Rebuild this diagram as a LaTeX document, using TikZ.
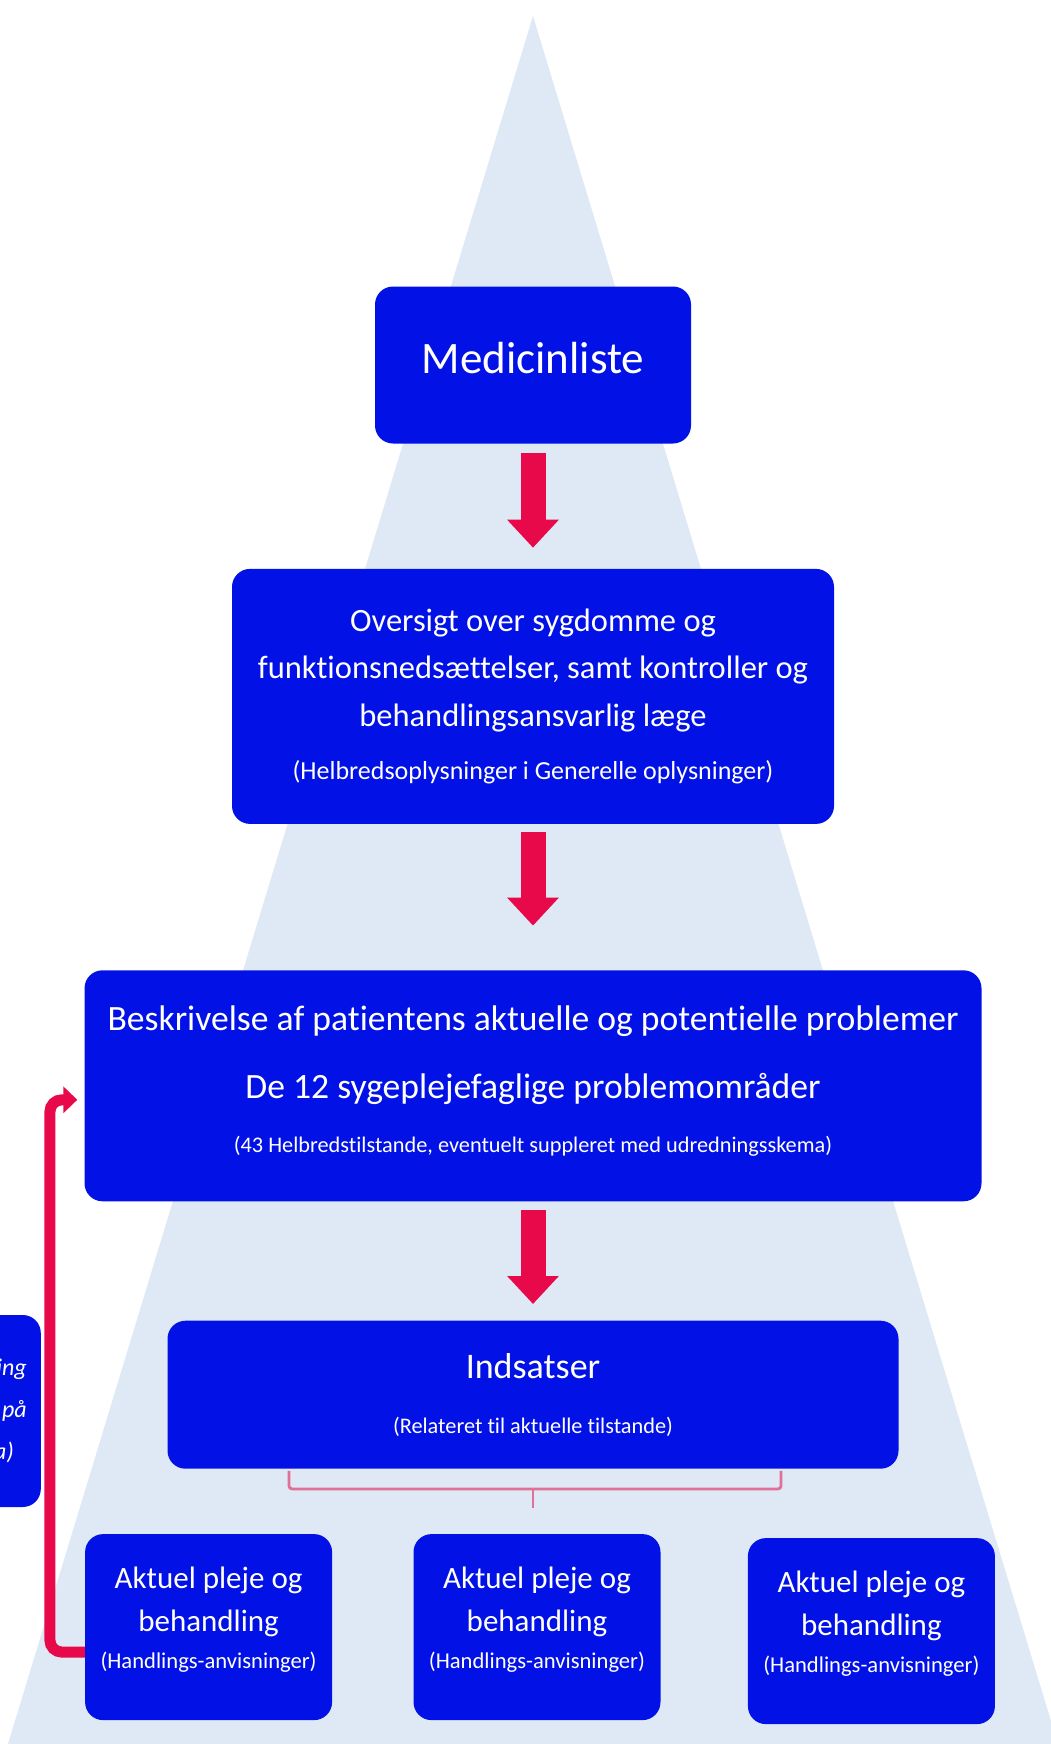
\documentclass[tikz,border=0pt]{standalone}
\usepackage{fontspec}
\setmainfont{Carlito}[Ligatures=NoCommon]
\usetikzlibrary{arrows.meta,positioning,calc}
\definecolor{pyramidblue}{HTML}{DEE9F5}
\definecolor{boxblue}{HTML}{0212E6}
\definecolor{arrowred}{HTML}{E8094A}
\definecolor{bracepink}{HTML}{E07095}
\tikzstyle{bluebox} = [rectangle, fill=boxblue, rounded corners=18pt, text=white,
    align=center, inner sep=0pt]
\tikzstyle{aktbox} = [bluebox, minimum width=247pt, minimum height=186pt, text depth=19pt,
    font={\fontsize{31}{43}\selectfont}]
\tikzstyle{downarrow} = [-{Triangle[width=50pt,length=28pt]}, line width=25pt, arrowred]
\tikzstyle{backarrow} = [-{Triangle[width=26pt,length=14pt]}, line width=11pt, arrowred, rounded corners=12pt]
\tikzstyle{bracket} = [line width=2.8pt, bracepink, rounded corners=3pt]

\begin{document}
\begin{tikzpicture}[x=1pt, y=-1pt]

\useasboundingbox (0,0) rectangle (1051,1744);
\fill[pyramidblue] (533,16) -- (8,1744) -- (1058,1744) -- cycle;

\node[bluebox, minimum width=316pt, minimum height=157pt, text depth=14pt, font={\fontsize{45}{54}\selectfont}] (med) at (533,365) {Medicinliste};
\node[bluebox, below=125pt of med, minimum width=602pt, minimum height=255pt, font={\fontsize{32.5}{47.5}\selectfont}] (oversigt) {Oversigt over sygdomme og\\funktionsnedsættelser, samt kontroller og\\behandlingsansvarlig læge\\[5.5pt]{\fontsize{26}{26}\selectfont (Helbredsoplysninger i Generelle oplysninger)}};
\node[bluebox, below=146pt of oversigt, minimum width=897pt, minimum height=231pt, text depth=12.5pt, font={\fontsize{35.6}{68}\selectfont}] (beskriv) {Beskrivelse af patientens aktuelle og potentielle problemer\\De 12 sygeplejefaglige problemområder\\[-14pt]{\fontsize{22.3}{22}\selectfont (43 Helbredstilstande, eventuelt suppleret med udredningsskema)}};
\node[bluebox, below=119pt of beskriv, minimum width=731pt, minimum height=148pt, font={\fontsize{36}{55}\selectfont}] (indsats) {Indsatser\\{\fontsize{22.3}{22}\selectfont (Relateret til aktuelle tilstande)}};

\node[aktbox, below=65pt of indsats, xshift=4pt] (akt2) {Aktuel pleje og\\behandling\\[-6pt]{\fontsize{22.6}{22}\selectfont (Handlings-anvisninger)}};
\node[aktbox, left=81pt of akt2] (akt1) {Aktuel pleje og\\behandling\\[-6pt]{\fontsize{22.6}{22}\selectfont (Handlings-anvisninger)}};
\node[aktbox, right=87pt of akt2, yshift=-4pt] (akt3) {Aktuel pleje og\\behandling\\[-6pt]{\fontsize{22.6}{22}\selectfont (Handlings-anvisninger)}};

\node[bluebox, anchor=east, minimum width=200pt, minimum height=192pt, text width=172pt, align=right, font={\itshape\fontsize{24}{42}\selectfont}] (evaluering) at (41,1411) {ing\\på\\a)\hspace*{13pt}};

\draw[downarrow, shorten <=9pt, shorten >=21pt] (med.south) -- (med.south |- oversigt.north);
\draw[downarrow, shorten <=7.5pt, shorten >=44.5pt] (oversigt.south) -- (oversigt.south |- beskriv.north);
\draw[downarrow, shorten <=8.5pt, shorten >=16.5pt] (beskriv.south) -- (beskriv.south |- indsats.north);

\draw[bracket] ($(indsats.south)+(-244,2)$) -- ++(0,18) -- ++(492,0) -- ++(0,-18);
\draw[bracket] ($(indsats.south)+(0,20)$) -- ++(0,19);

\draw[backarrow] ($(akt1.west)+(0,25)$) -- ++(-35,0) |- ($(beskriv.west)+(-7,14)$);

\end{tikzpicture}
\end{document}
